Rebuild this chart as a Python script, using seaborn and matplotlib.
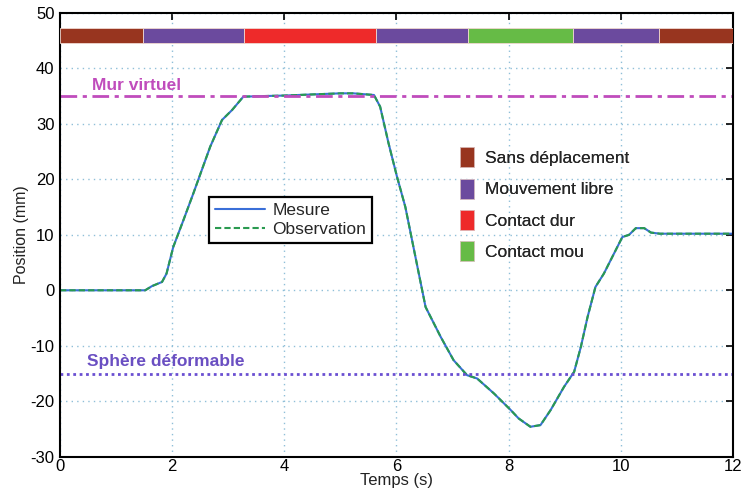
import numpy as np
import pandas as pd
import matplotlib
matplotlib.use("Agg")
import matplotlib.pyplot as plt
import seaborn as sns
from matplotlib.patches import Patch

# ---- data ----
temps = [0, 1.52, 1.64, 1.82, 1.90, 2.02, 2.20, 2.38, 2.53, 2.68, 2.89, 3.07, 3.27,
         3.6, 4.0, 4.5, 5.0, 5.23, 5.6, 5.71, 5.86, 6.01, 6.16, 6.28, 6.40, 6.52,
         6.61, 6.79, 7.02, 7.26, 7.44, 7.74, 8.04, 8.18, 8.39, 8.57, 8.75, 8.99,
         9.17, 9.29, 9.41, 9.55, 9.70, 9.88, 10.03, 10.15, 10.27, 10.42, 10.54,
         10.7, 12]
mesure = [0, 0, 0.75, 1.5, 3.0, 7.8, 12.6, 17.5, 21.7, 25.9, 30.7, 32.5, 34.9,
          35.0, 35.1, 35.3, 35.5, 35.5, 35.2, 33.1, 26.5, 20.5, 15.0, 9.0, 3.0, -3.0,
          -4.8, -8.4, -12.6, -15.3, -15.9, -18.6, -21.6, -23.1, -24.6, -24.3, -21.6,
          -17.4, -14.7, -10.2, -4.8, 0.6, 3.0, 6.6, 9.6, 10.0, 11.2, 11.2, 10.4,
          10.2, 10.2]
observation = [0, 0, 0.75, 1.5, 3.0, 7.8, 12.6, 17.5, 21.7, 25.9, 30.7, 32.5, 34.9,
               35.0, 35.1, 35.3, 35.5, 35.5, 35.2, 33.1, 26.5, 20.5, 15.0, 9.0, 3.0, -3.0,
               -4.8, -8.4, -12.6, -15.3, -15.9, -18.6, -21.6, -23.1, -24.6, -24.3, -21.6,
               -17.4, -14.7, -10.2, -4.8, 0.6, 3.0, 6.6, 9.6, 10.0, 11.2, 11.2, 10.4,
               10.2, 10.2]

phase_starts = [0, 1.48, 3.29, 5.64, 7.28, 9.155, 10.69]
phase_ends = [1.48, 3.29, 5.64, 7.28, 9.155, 10.69, 12]
phase_names = ["Sans déplacement", "Mouvement libre", "Contact dur", "Mouvement libre",
               "Contact mou", "Mouvement libre", "Sans déplacement"]
legend_phases = ["Sans déplacement", "Mouvement libre", "Contact dur", "Contact mou"]
phase_colors = {"Sans déplacement": "#98351f", "Mouvement libre": "#6b4a9e",
                "Contact dur": "#ee2a2a", "Contact mou": "#66bb46"}

mur_virtuel = 35
sphere = -15
xticks = [0, 2, 4, 6, 8, 10, 12]
yticks = [-30, -20, -10, 0, 10, 20, 30, 40, 50]

# ---- plot ----
sns.set_theme(style="white")
plt.rcParams['font.family'] = ['Liberation Sans', 'DejaVu Sans']
plt.rcParams['axes.unicode_minus'] = False

fig = plt.figure(figsize=(7.47, 4.96), dpi=100)
ax = fig.add_axes([0.0803, 0.0792, 0.9007, 0.8948])

df = pd.DataFrame({"Temps": temps, "Mesure": mesure, "Observation": observation})
sns.lineplot(data=df, x="Temps", y="Mesure", ax=ax, color="#3a6fd8", lw=1.5,
             label="Mesure", estimator=None, sort=False)
sns.lineplot(data=df, x="Temps", y="Observation", ax=ax, color="#2a9a50", lw=1.5,
             ls=(0, (3, 1.5)), label="Observation", estimator=None, sort=False)

# phase bar
widths = [e - s for s, e in zip(phase_starts, phase_ends)]
ax.barh([45.85] * len(phase_starts), widths, left=phase_starts, height=2.7,
        color=[phase_colors[n] for n in phase_names], edgecolor="#f0d8d0", lw=0.6,
        zorder=3)

ax.axhline(mur_virtuel, color="#c04cbc", lw=2, ls=(0, (6, 2, 1.5, 2)), zorder=2)
ax.axhline(sphere, color="#6a4fd2", lw=2, ls=(0, (1, 1.3)), zorder=2)
ax.text(0.57, 36.9, "Mur virtuel", color="#c04cbc", fontsize=12.5,
        fontweight="bold", va="center", ha="left")
ax.text(0.48, -12.9, "Sphère déformable", color="#6a4fc2", fontsize=12.5,
        fontweight="bold", va="center", ha="left")

ax.set_xlim(0, 12)
ax.set_ylim(-30, 50)
ax.set_xticks(xticks)
ax.set_yticks(yticks)
ax.grid(True, color="#8fbfd8", ls=(0, (1, 3)), lw=1)
ax.tick_params(direction="in", length=5, width=1.2, top=True, right=True,
               labelsize=12, colors="black", pad=4)
ax.tick_params(axis="x", pad=2)
for s in ax.spines.values():
    s.set_visible(True)
    s.set_color("black")
    s.set_linewidth(1.5)
ax.set_xlabel("Temps (s)", fontsize=12, labelpad=-1, color="#222222")
ax.set_ylabel("Position (mm)", fontsize=11.5, labelpad=1, color="#222222")

leg1 = ax.legend(loc="upper left", bbox_to_anchor=(0.2215, 0.585), borderaxespad=0,
                 fontsize=12.5, frameon=True, fancybox=False, handlelength=2.9,
                 borderpad=0.35, labelspacing=0.2, handletextpad=0.4)
leg1.get_frame().set_edgecolor("black")
leg1.get_frame().set_linewidth(1.6)
leg1.get_frame().set_facecolor("white")
leg1.get_frame().set_alpha(1)
ax.add_artist(leg1)

handles = [Patch(facecolor=phase_colors[n], edgecolor="#e0c8c8", lw=0.5)
           for n in legend_phases]
leg2 = ax.legend(handles, legend_phases, loc="upper left",
                 bbox_to_anchor=(0.584, 0.713), borderaxespad=0, fontsize=12.5,
                 frameon=False, handlelength=0.8, handleheight=1.4,
                 labelspacing=0.65, handletextpad=0.63)
ax.add_artist(leg2)

fig.savefig("out.png", dpi=100)
